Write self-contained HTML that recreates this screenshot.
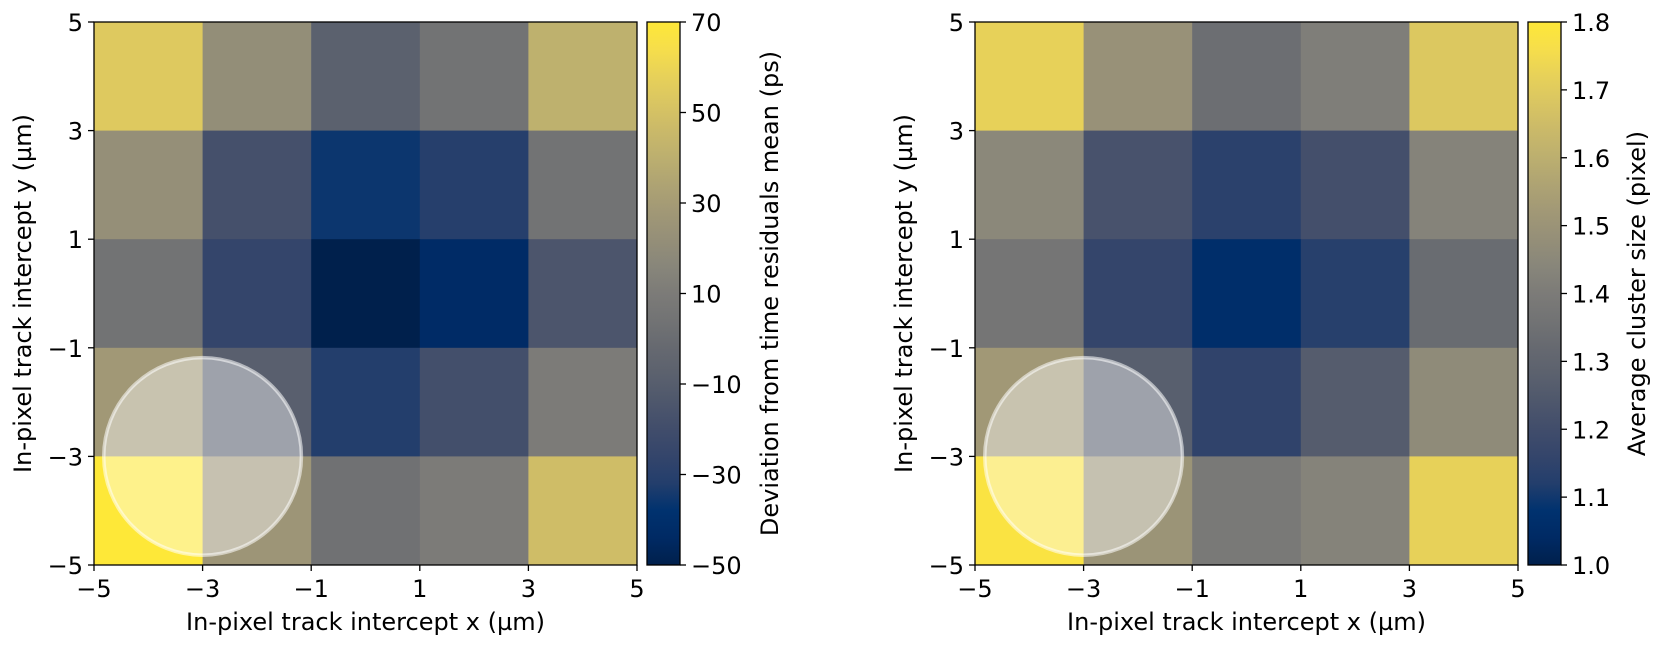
<!DOCTYPE html>
<html><head><meta charset="utf-8">
<style>
body{margin:0;background:#fff;}
svg{display:block;font-family:"DejaVu Sans","Liberation Sans",sans-serif;}
text{fill:#000;}
</style></head>
<body>
<svg id="chart" width="1661" height="646" xmlns="http://www.w3.org/2000/svg">
<defs>
<linearGradient id="cvd" x1="0" y1="1" x2="0" y2="0">
<stop offset="0" stop-color="#00204c"/>
<stop offset="0.05" stop-color="#002a64"/>
<stop offset="0.1" stop-color="#00326f"/>
<stop offset="0.15" stop-color="#233e6c"/>
<stop offset="0.2" stop-color="#34456b"/>
<stop offset="0.25" stop-color="#414d6b"/>
<stop offset="0.3" stop-color="#4e576c"/>
<stop offset="0.35" stop-color="#5b616e"/>
<stop offset="0.4" stop-color="#666970"/>
<stop offset="0.45" stop-color="#727374"/>
<stop offset="0.5" stop-color="#7c7b78"/>
<stop offset="0.55" stop-color="#88867a"/>
<stop offset="0.6" stop-color="#958f78"/>
<stop offset="0.65" stop-color="#a19876"/>
<stop offset="0.7" stop-color="#aea373"/>
<stop offset="0.75" stop-color="#bcaf6f"/>
<stop offset="0.8" stop-color="#cab969"/>
<stop offset="0.85" stop-color="#d9c562"/>
<stop offset="0.9" stop-color="#e7d159"/>
<stop offset="0.95" stop-color="#f6de4b"/>
<stop offset="1" stop-color="#fee838"/>
</linearGradient>
</defs>
</svg>
<script>
// data (rows listed top (y=3..5) to bottom (y=-5..-3))
const xEdges = [-5,-3,-1,1,3,5];
const yEdges = [-5,-3,-1,1,3,5];
const leftValues = [
 [54,21,-8,4,41],
 [22,-18,-36,-31,4],
 [4,-26,-50,-43,-15],
 [28,-9,-32,-19,10],
 [70,26,3,10,48]
];
const rightValues = [
 [1.72,1.49,1.34,1.41,1.69],
 [1.45,1.22,1.14,1.21,1.43],
 [1.37,1.16,1.06,1.13,1.33],
 [1.52,1.27,1.15,1.26,1.46],
 [1.78,1.50,1.39,1.43,1.72]
];
const leftTicks = [70,50,30,10,-10,-30,-50];
const rightTicks = [1.0,1.1,1.2,1.3,1.4,1.5,1.6,1.7,1.8];
const circleCenter = [-3,-3];
const circleRadius = 1.82;

const stopHex=['#00204c','#002a64','#00326f','#233e6c','#34456b','#414d6b','#4e576c','#5b616e','#666970','#727374','#7c7b78','#88867a','#958f78','#a19876','#aea373','#bcaf6f','#cab969','#d9c562','#e7d159','#f6de4b','#fee838'];
const stops=stopHex.map((h,i)=>[i/20,[parseInt(h.slice(1,3),16),parseInt(h.slice(3,5),16),parseInt(h.slice(5,7),16)]]);
function cmap(t){t=Math.max(0,Math.min(1,t));for(let i=1;i<stops.length;i++){if(t<=stops[i][0]){const a=stops[i-1],b=stops[i];const f=(t-a[0])/(b[0]-a[0]);const c=a[1].map((v,k)=>Math.round(v+(b[1][k]-v)*f));return `rgb(${c.join(',')})`;}}return '#fee838';}
const NS='http://www.w3.org/2000/svg';
const svg=document.getElementById('chart');
function el(tag,attrs,parent){const e=document.createElementNS(NS,tag);for(const k in attrs)e.setAttribute(k,attrs[k]);(parent||svg).appendChild(e);return e;}
function fmt(v){return v<0?'\u2212'+Math.abs(v):String(v);}

function panel(px,values,vmin,vmax,ticks,cbLabel,name,dec,cbOff){
  const top=22,size=543,left=px;
  const g=el('g',{});
  
  
  const sx=v=>left+(v+5)/10*size, sy=v=>top+(5-v)/10*size;
  for(let r=0;r<5;r++)for(let c=0;c<5;c++){
    const y1=yEdges[4-r],y2=yEdges[5-r];
    const rc=el('rect',{x:sx(xEdges[c]),y:sy(y2),width:sx(xEdges[c+1])-sx(xEdges[c])+0.5,height:sy(y1)-sy(y2)+0.5,fill:cmap((values[r][c]-vmin)/(vmax-vmin))},g);
    
    
  }
  const ci=el('circle',{cx:sx(circleCenter[0]),cy:sy(circleCenter[1]),r:circleRadius/10*size,fill:'rgba(255,255,255,0.42)',stroke:'rgba(255,255,255,0.55)','stroke-width':3.5},g);
  
  
  el('rect',{x:left,y:top,width:size,height:size,fill:'none',stroke:'#000','stroke-width':1.3},g);
  xEdges.forEach(v=>{
    el('line',{x1:sx(v),x2:sx(v),y1:top+size,y2:top+size+6,stroke:'#000','stroke-width':1.3},g);
    const t=el('text',{x:sx(v),y:top+size+32,'font-size':24,'text-anchor':'middle'},g);t.textContent=fmt(v);
    
  });
  yEdges.forEach(v=>{
    el('line',{x1:left-6,x2:left,y1:sy(v),y2:sy(v),stroke:'#000','stroke-width':1.3},g);
    const t=el('text',{x:left-11,y:sy(v)+9,'font-size':24,'text-anchor':'end'},g);t.textContent=fmt(v);
    
  });
  const xl=el('text',{x:left+size/2,y:630,'font-size':24,'text-anchor':'middle'},g);xl.textContent='In-pixel track intercept x (\u00b5m)';
  
  const yl=el('text',{x:0,y:0,'font-size':24,'text-anchor':'middle',transform:`translate(${left-63},${top+size/2}) rotate(-90)`},g);yl.textContent='In-pixel track intercept y (\u00b5m)';
  
  const cbx=left+size+10,cbw=33;
  const cb=el('rect',{x:cbx,y:top,width:cbw,height:size,fill:'url(#cvd)',stroke:'#000','stroke-width':1.3},g);
  
  ticks.forEach(v=>{
    const y=top+(vmax-v)/(vmax-vmin)*size;
    el('line',{x1:cbx+cbw,x2:cbx+cbw+6,y1:y,y2:y,stroke:'#000','stroke-width':1.3},g);
    const t=el('text',{x:cbx+cbw+11,y:y+9,'font-size':24},g);t.textContent=dec?v.toFixed(1):fmt(v);
    
  });
  const cl=el('text',{x:0,y:0,'font-size':24,'text-anchor':'middle',transform:`translate(${cbx+cbw+cbOff},${top+size/2}) rotate(-90)`},g);cl.textContent=cbLabel;
  
}
panel(94,leftValues,-50,70,leftTicks,'Deviation from time residuals mean (ps)','time-residuals',false,98);
panel(975,rightValues,1.0,1.8,rightTicks,'Average cluster size (pixel)','cluster-size',true,84);
</script>
</body></html>
